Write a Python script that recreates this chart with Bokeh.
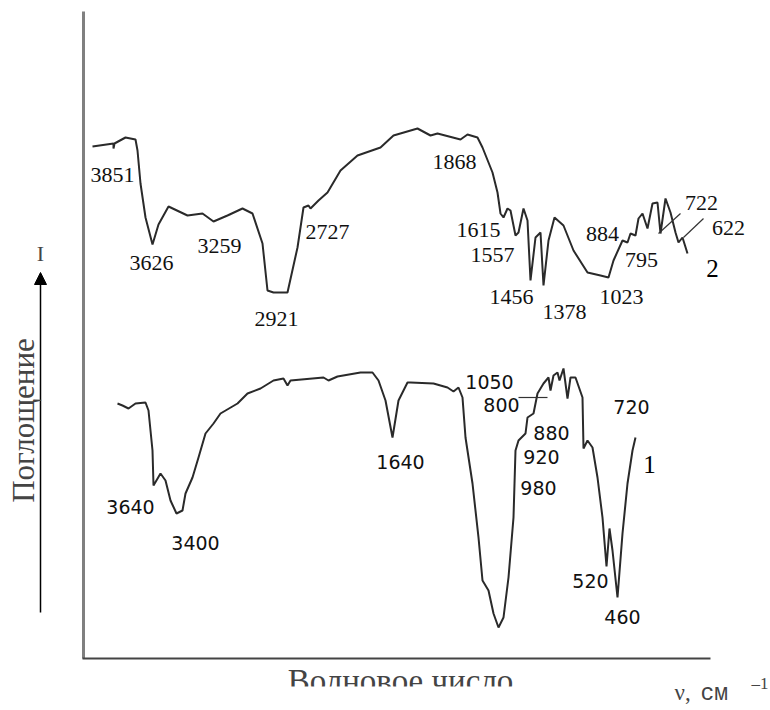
from bokeh.plotting import figure
from bokeh.models import Range1d, ColumnDataSource, Label, Arrow, NormalHead
from bokeh.core.properties import value
from bokeh.embed import file_html
from bokeh.resources import INLINE

# Spectrum 2 (upper trace): position along the wavenumber axis, signal depth
s2_x = [92, 113, 113, 114, 125, 135, 137, 140, 145, 152, 158, 168, 187, 202, 213, 227, 242,
        252, 262, 267, 273, 287, 297, 303, 308, 310, 318, 327, 340, 357, 380, 393, 417,
        430, 437, 460, 467, 477, 482, 488, 492, 497, 500, 503, 507, 510, 515, 518, 523,
        527, 530, 535, 540, 543, 548, 554, 563, 573, 587, 600, 608, 613, 622, 627, 630,
        635, 638, 642, 647, 652, 657, 660, 665, 670, 675, 678, 682, 687]
s2_y = [146, 143, 148, 143, 137, 139, 150, 183, 217, 244, 224, 206, 215, 213, 221, 215, 208,
        213, 243, 290, 292, 292, 247, 207, 205, 208, 200, 192, 170, 155, 147, 135, 128,
        135, 133, 139, 134, 137, 147, 162, 172, 192, 213, 217, 208, 210, 235, 232, 208,
        220, 280, 237, 232, 285, 240, 217, 225, 250, 272, 275, 277, 260, 240, 242, 233,
        235, 218, 213, 228, 203, 202, 233, 198, 212, 232, 242, 237, 253]

# Spectrum 1 (lower trace)
s1_x = [117, 122, 128, 135, 145, 148, 152, 153, 160, 165, 170, 176, 182, 185, 192, 198, 205,
        213, 220, 237, 247, 260, 273, 283, 287, 290, 323, 328, 337, 360, 372, 378, 385,
        392, 398, 407, 410, 433, 447, 453, 458, 462, 465, 472, 478, 482, 488, 493, 498,
        503, 508, 513, 515, 518, 525, 527, 533, 537, 543, 548, 550, 553, 557, 559, 563,
        567, 570, 575, 582, 583, 587, 592, 597, 602, 606, 609, 612, 617, 622, 627, 632, 635]
s1_y = [403, 405, 408, 403, 402, 410, 450, 485, 473, 480, 500, 513, 510, 493, 477, 457, 433,
        423, 413, 403, 393, 388, 380, 378, 385, 380, 377, 380, 376, 372, 372, 380, 400,
        437, 400, 382, 382, 383, 387, 391, 387, 397, 437, 483, 537, 580, 590, 613, 627,
        617, 577, 517, 450, 440, 433, 417, 413, 393, 383, 377, 390, 375, 372, 380, 368,
        398, 377, 377, 397, 448, 440, 447, 477, 517, 566, 528, 550, 597, 533, 483, 450, 437]

# Band labels for spectrum 2
b2_text = ["3851", "3626", "3259", "2921", "2727", "1868", "1615", "1557", "1456",
           "1378", "1023", "884", "795", "722", "622"]
b2_x = [112, 151, 219, 276, 327, 454, 478, 492, 511, 564, 621, 602, 641, 701, 728]
b2_y = [174, 262, 245, 318, 231, 161, 229, 254, 296, 311, 296, 233, 259, 202, 227]

# Band labels for spectrum 1
b1_text = ["3640", "3400", "1640", "1050", "800", "720", "880", "920", "980", "520", "460"]
b1_x = [130, 195, 400, 489, 501, 631, 551, 541, 538, 590, 622]
b1_y = [506, 542, 461, 381, 404, 406, 432, 456, 487, 580, 616]

# Leader lines: (x0, y0, x1, y1)
lead_x0 = [658, 683, 518]
lead_y0 = [233, 237, 397]
lead_x1 = [680, 703, 547]
lead_y1 = [213, 218, 397]

p = figure(width=770, height=710, x_range=Range1d(0, 770), y_range=Range1d(710, 0),
           output_backend="svg", toolbar_location=None, min_border=0,
           x_axis_location=None, y_axis_location=None)
p.grid.visible = False
p.outline_line_color = None
p.background_fill_color = "white"
p.border_fill_color = "white"

# frame lines
p.segment(x0=[83], y0=[11], x1=[83], y1=[658], line_color="#808080", line_width=3)
p.segment(x0=[82], y0=[658], x1=[710], y1=[658], line_color="#444444", line_width=2)

# spectra
p.line(s2_x, s2_y, line_color="#2a2a2a", line_width=2)
p.line(s1_x, s1_y, line_color="#2a2a2a", line_width=2)

p.segment(x0=lead_x0, y0=lead_y0, x1=lead_x1, y1=lead_y1, line_color="#333333", line_width=1.2)

src2 = ColumnDataSource(dict(x=b2_x, y=b2_y, t=b2_text))
p.text(x="x", y="y", text="t", source=src2, text_font=value("Liberation Serif"),
       text_font_size="22px", text_align="center", text_baseline="middle", text_color="#111111")

src1 = ColumnDataSource(dict(x=b1_x, y=b1_y, t=b1_text))
p.text(x="x", y="y", text="t", source=src1, text_font=value("DejaVu Sans"),
       text_font_size="19px", text_align="center", text_baseline="middle", text_color="#111111")

# curve numbers
for num, cx, cy in [("2", 712, 268), ("1", 649, 464)]:
    p.add_layout(Label(x=cx, y=cy, text=num, text_font="Liberation Serif", text_font_size="25px",
                       text_align="center", text_baseline="middle", text_color="#000000"))

# axis captions
p.add_layout(Label(x=40, y=253, text="I", text_font="Liberation Serif", text_font_size="22px",
                   text_align="center", text_baseline="middle"))
p.add_layout(Arrow(end=NormalHead(size=12, fill_color="black", line_color="black"),
                   x_start=40, y_start=612, x_end=40, y_end=272, line_width=1.5))
p.add_layout(Label(x=23, y=420, text="Поглощение", text_font="Liberation Serif",
                   text_font_size="31px", text_align="center", text_baseline="middle", angle=90,
                   angle_units="deg"))
p.add_layout(Label(x=400, y=680, text="Волновое число", text_font="Liberation Serif",
                   text_font_size="33px", text_align="center", text_baseline="middle"))
# the caption is cut off along its lower edge
p.quad(left=[230], right=[580], top=[686], bottom=[710], fill_color="white", line_color=None,
       level="overlay")
p.add_layout(Label(x=674, y=692, text="ν,", text_font="Liberation Serif",
                   text_font_size="23px", text_align="left", text_baseline="middle"))
p.add_layout(Label(x=700, y=693, text="см", text_font="Liberation Mono",
                   text_font_size="23px", text_align="left", text_baseline="middle"))
p.add_layout(Label(x=751, y=683, text="–1", text_font="Liberation Serif",
                   text_font_size="17px", text_align="left", text_baseline="middle"))

open("out.html", "w").write(file_html(p, INLINE))
